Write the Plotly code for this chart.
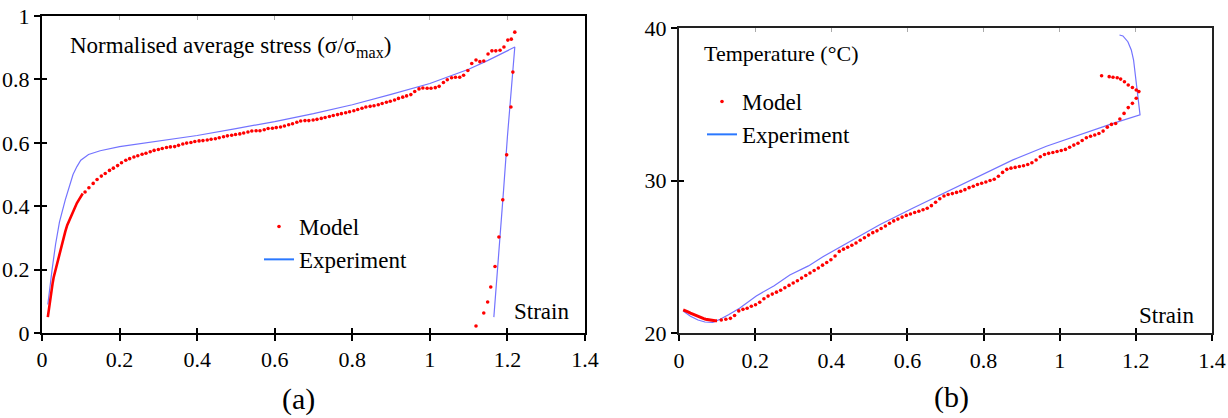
import plotly.graph_objects as go

W, H = 1228, 418
FONT = "Liberation Serif, Times New Roman, serif"

# ---------------- Panel (a): normalised average stress ----------------
exp_a_strain = [0.015, 0.02, 0.026, 0.035, 0.045, 0.06, 0.07, 0.08, 0.09, 0.10, 0.12, 0.15, 0.2, 0.3,
                0.4, 0.5, 0.6, 0.7, 0.8, 0.9, 1.0, 1.1, 1.15, 1.219, 1.21, 1.20, 1.19, 1.18, 1.165]
exp_a_stress = [0.09, 0.15, 0.20, 0.28, 0.35, 0.42, 0.46, 0.50, 0.525, 0.545, 0.563, 0.575, 0.588, 0.605,
                0.623, 0.645, 0.667, 0.692, 0.72, 0.753, 0.787, 0.832, 0.86, 0.902, 0.78, 0.62, 0.45, 0.28, 0.05]

model_a_dense_strain = [0.015, 0.0165, 0.018, 0.02, 0.0225, 0.025, 0.0275, 0.03, 0.033, 0.036, 0.04, 0.045,
                        0.05, 0.055, 0.06, 0.065, 0.07, 0.075, 0.08, 0.085, 0.09, 0.095, 0.10, 0.105]
model_a_dense_stress = [0.05, 0.065, 0.08, 0.10, 0.12, 0.14, 0.158, 0.175, 0.19, 0.205, 0.225, 0.25,
                        0.275, 0.30, 0.32, 0.34, 0.355, 0.37, 0.385, 0.40, 0.41, 0.42, 0.43, 0.44]

model_a_strain = [0.111, 0.121, 0.132, 0.142, 0.153, 0.163, 0.174, 0.184, 0.195, 0.205, 0.216, 0.226, 0.237,
                  0.247, 0.258, 0.268, 0.279, 0.289, 0.300, 0.310, 0.321, 0.331, 0.342, 0.352, 0.363, 0.373,
                  0.384, 0.394, 0.405, 0.415, 0.426, 0.436, 0.447, 0.457, 0.468, 0.478, 0.489, 0.499, 0.510,
                  0.520, 0.531, 0.541, 0.552, 0.562, 0.573, 0.583, 0.594, 0.604, 0.615, 0.625, 0.636, 0.646,
                  0.657, 0.667, 0.678, 0.688, 0.699, 0.709, 0.720, 0.730, 0.741, 0.751, 0.762, 0.772, 0.783,
                  0.793, 0.804, 0.814, 0.825, 0.835, 0.846, 0.856, 0.867, 0.877, 0.888, 0.898, 0.909, 0.919,
                  0.930, 0.940, 0.951, 0.961, 0.972, 0.982, 0.993, 1.003, 1.014, 1.024, 1.035, 1.045, 1.056,
                  1.066, 1.077, 1.087, 1.098, 1.108, 1.119, 1.129, 1.139, 1.150, 1.160, 1.170, 1.181, 1.191,
                  1.201, 1.210, 1.219,
                  1.214, 1.209, 1.198, 1.188, 1.178, 1.168, 1.157, 1.149, 1.139, 1.119]
model_a_stress = [0.445, 0.458, 0.472, 0.484, 0.495, 0.503, 0.513, 0.520, 0.528, 0.537, 0.545, 0.550, 0.555,
                  0.559, 0.564, 0.567, 0.572, 0.576, 0.579, 0.582, 0.585, 0.587, 0.588, 0.592, 0.596, 0.599,
                  0.601, 0.604, 0.606, 0.607, 0.609, 0.611, 0.613, 0.616, 0.619, 0.622, 0.624, 0.626, 0.628,
                  0.631, 0.634, 0.637, 0.638, 0.638, 0.641, 0.645, 0.646, 0.648, 0.650, 0.653, 0.657, 0.660,
                  0.665, 0.669, 0.670, 0.670, 0.672, 0.674, 0.677, 0.680, 0.683, 0.686, 0.689, 0.692, 0.695,
                  0.698, 0.701, 0.705, 0.709, 0.713, 0.715, 0.717, 0.720, 0.724, 0.728, 0.731, 0.735, 0.740,
                  0.744, 0.748, 0.752, 0.762, 0.770, 0.773, 0.772, 0.772, 0.774, 0.778, 0.790, 0.799, 0.805,
                  0.807, 0.807, 0.813, 0.828, 0.850, 0.861, 0.856, 0.858, 0.880, 0.890, 0.890, 0.892, 0.902,
                  0.924, 0.927, 0.949,
                  0.823, 0.713, 0.562, 0.420, 0.303, 0.210, 0.145, 0.098, 0.063, 0.022]

# ---------------- Panel (b): temperature ----------------
exp_b_strain = [0.011, 0.03, 0.05, 0.068, 0.089, 0.108, 0.13, 0.159, 0.203, 0.25, 0.291, 0.34, 0.378, 0.42,
                0.466, 0.527, 0.615, 0.702, 0.790, 0.877, 0.965, 1.053, 1.140, 1.211, 1.204, 1.200, 1.194,
                1.188, 1.179, 1.166, 1.157]
exp_b_temp = [21.44, 21.10, 20.85, 20.72, 20.70, 20.90, 21.20, 21.62, 22.43, 23.10, 23.80, 24.40, 25.00, 25.60,
              26.21, 27.10, 28.20, 29.25, 30.30, 31.35, 32.25, 33.00, 33.75, 34.30, 35.72, 36.80, 37.90,
              38.56, 39.10, 39.48, 39.54]

model_b_dense_strain = [0.011, 0.015, 0.020, 0.025, 0.030, 0.035, 0.040, 0.045, 0.050, 0.055, 0.060, 0.065,
                        0.070, 0.075, 0.080, 0.085, 0.090, 0.095, 0.100]
model_b_dense_temp = [21.51, 21.48, 21.43, 21.37, 21.31, 21.25, 21.19, 21.13, 21.08, 21.03, 20.98, 20.94,
                      20.90, 20.87, 20.84, 20.82, 20.81, 20.80, 20.80]

model_b_strain = [0.111, 0.123, 0.135, 0.146, 0.157, 0.168, 0.179, 0.190, 0.201, 0.212, 0.223, 0.234, 0.245,
                  0.256, 0.267, 0.278, 0.289, 0.300, 0.311, 0.322, 0.333, 0.344, 0.355, 0.366, 0.377, 0.388,
                  0.399, 0.410, 0.421, 0.432, 0.443, 0.454, 0.465, 0.476, 0.487, 0.498, 0.509, 0.520, 0.531,
                  0.542, 0.553, 0.564, 0.575, 0.586, 0.597, 0.608, 0.619, 0.630, 0.641, 0.652, 0.663, 0.674,
                  0.685, 0.696, 0.707, 0.718, 0.729, 0.740, 0.751, 0.762, 0.773, 0.784, 0.795, 0.806, 0.817,
                  0.828, 0.839, 0.850, 0.861, 0.872, 0.883, 0.894, 0.905, 0.916, 0.927, 0.938, 0.949, 0.960,
                  0.971, 0.982, 0.993, 1.004, 1.015, 1.026, 1.037, 1.048, 1.059, 1.070, 1.081, 1.092, 1.103,
                  1.114, 1.125, 1.136, 1.147, 1.158, 1.169, 1.180, 1.191, 1.201, 1.208,
                  1.201, 1.191, 1.180, 1.170, 1.160, 1.151, 1.140, 1.130, 1.110]
model_b_temp = [20.85, 20.90, 20.96, 21.15, 21.45, 21.55, 21.62, 21.75, 21.85, 22.02, 22.25, 22.42, 22.55,
                22.68, 22.80, 22.97, 23.12, 23.28, 23.43, 23.60, 23.77, 23.93, 24.10, 24.26, 24.45, 24.62,
                24.80, 25.05, 25.35, 25.50, 25.62, 25.75, 25.90, 26.08, 26.25, 26.42, 26.58, 26.70, 26.85,
                27.02, 27.20, 27.35, 27.47, 27.60, 27.71, 27.80, 27.90, 27.98, 28.08, 28.18, 28.35, 28.57,
                28.80, 28.98, 29.08, 29.14, 29.22, 29.30, 29.40, 29.53, 29.62, 29.74, 29.82, 29.90, 30.00,
                30.08, 30.28, 30.53, 30.73, 30.81, 30.86, 30.92, 30.97, 31.05, 31.16, 31.34, 31.56, 31.70,
                31.78, 31.84, 31.90, 31.97, 32.04, 32.18, 32.32, 32.44, 32.62, 32.80, 32.90, 32.98, 33.08,
                33.24, 33.50, 33.68, 33.74, 34.03, 34.40, 34.78, 35.06, 35.39, 35.83,
                35.93, 36.10, 36.26, 36.48, 36.65, 36.74, 36.77, 36.81, 36.87]

x_ticks = [0, 0.2, 0.4, 0.6, 0.8, 1.0, 1.2, 1.4]
x_tick_text = ["0", "0.2", "0.4", "0.6", "0.8", "1", "1.2", "1.4"]
ya_ticks = [0, 0.2, 0.4, 0.6, 0.8, 1.0]
ya_tick_text = ["0", "0.2", "0.4", "0.6", "0.8", "1"]
yb_ticks = [20, 30, 40]
yb_tick_text = ["20", "30", "40"]

RED = "#ff0000"
LINE_BLUE = "#7373ff"
LEG_BLUE = "#2a78ff"

fig = go.Figure()

# panel a
fig.add_trace(go.Scatter(x=exp_a_strain, y=exp_a_stress, mode="lines", line=dict(color=LINE_BLUE, width=1.2),
                         showlegend=False, xaxis="x", yaxis="y"))
fig.add_trace(go.Scatter(x=model_a_dense_strain, y=model_a_dense_stress, mode="lines",
                         line=dict(color=RED, width=2.6), showlegend=False, xaxis="x", yaxis="y"))
fig.add_trace(go.Scatter(x=model_a_strain, y=model_a_stress, mode="markers", name="Model",
                         marker=dict(color=RED, size=3.6), legend="legend", legendgroup="m",
                         xaxis="x", yaxis="y"))
fig.add_trace(go.Scatter(x=[None], y=[None], mode="lines", name="Experiment",
                         line=dict(color=LEG_BLUE, width=2), legend="legend", legendgroup="e",
                         xaxis="x", yaxis="y"))

# panel b
fig.add_trace(go.Scatter(x=exp_b_strain, y=exp_b_temp, mode="lines", line=dict(color=LINE_BLUE, width=1.2),
                         showlegend=False, xaxis="x2", yaxis="y2"))
fig.add_trace(go.Scatter(x=model_b_dense_strain, y=model_b_dense_temp, mode="lines",
                         line=dict(color=RED, width=3), showlegend=False, xaxis="x2", yaxis="y2"))
fig.add_trace(go.Scatter(x=model_b_strain, y=model_b_temp, mode="markers", name="Model",
                         marker=dict(color=RED, size=3.6), legend="legend2", legendgroup="m2",
                         xaxis="x2", yaxis="y2"))
fig.add_trace(go.Scatter(x=[None], y=[None], mode="lines", name="Experiment",
                         line=dict(color=LEG_BLUE, width=2), legend="legend2", legendgroup="e2",
                         xaxis="x2", yaxis="y2"))

# empty traces so the overlay (inside-tick) axes are drawn
for xa, ya in [("x3", "y"), ("x", "y3"), ("x4", "y2"), ("x2", "y4"), ("x5", "y"), ("x6", "y2")]:
    fig.add_trace(go.Scatter(x=[], y=[], mode="markers", showlegend=False, hoverinfo="skip",
                             xaxis=xa, yaxis=ya))

tickfont = dict(family=FONT, size=22, color="black")
common = dict(showgrid=False, zeroline=False, ticks="outside", ticklen=6, tickwidth=1.6,
              tickcolor="black", tickfont=tickfont, automargin=False)
overlay = dict(showticklabels=False, showgrid=False, zeroline=False, showline=False, automargin=False)

xa_dom = [42 / W, 585 / W]
xb_dom = [679 / W, 1212 / W]
ya_dom = [(H - 333) / H, (H - 16) / H]
yb_dom = [(H - 333) / H, (H - 28) / H]

fig.update_layout(
    width=W, height=H, margin=dict(l=0, r=0, t=0, b=0, autoexpand=False),
    paper_bgcolor="white", plot_bgcolor="white",
    xaxis=dict(domain=xa_dom, range=[0, 1.4], anchor="y", tickvals=x_ticks, ticktext=x_tick_text,
               showline=True, linecolor="black", linewidth=2, mirror=True, **common),
    yaxis=dict(domain=ya_dom, range=[0, 1], anchor="x", tickvals=ya_ticks, ticktext=ya_tick_text,
               showline=True, linecolor="black", linewidth=2, mirror=True, **common),
    xaxis2=dict(domain=xb_dom, range=[0, 1.4], anchor="y2", tickvals=x_ticks, ticktext=x_tick_text,
                showline=True, linecolor="#222", linewidth=2.2, mirror=True, **common),
    yaxis2=dict(domain=yb_dom, range=[20, 40], anchor="x2", tickvals=yb_ticks, ticktext=yb_tick_text,
                showline=True, linecolor="#222", linewidth=2, mirror=True, **common),
    xaxis3=dict(overlaying="x", range=[0, 1.4], anchor="y", tickvals=x_ticks,
                ticks="inside", ticklen=5, tickwidth=1.6, tickcolor="black", **overlay),
    yaxis3=dict(overlaying="y", range=[0, 1], anchor="x", tickvals=ya_ticks,
                ticks="inside", ticklen=5, tickwidth=1.6, tickcolor="black", **overlay),
    xaxis4=dict(overlaying="x2", range=[0, 1.4], anchor="y2", tickvals=x_ticks,
                ticks="inside", ticklen=5, tickwidth=1.6, tickcolor="black", **overlay),
    yaxis4=dict(overlaying="y2", range=[20, 40], anchor="x2", tickvals=yb_ticks,
                ticks="inside", ticklen=5, tickwidth=1.6, tickcolor="black", **overlay),
    xaxis5=dict(overlaying="x", range=[0, 1.4], anchor="y", side="top", tickvals=x_ticks[1:-1],
                ticks="inside", ticklen=4, tickwidth=1, tickcolor="#aaa", **overlay),
    xaxis6=dict(overlaying="x2", range=[0, 1.4], anchor="y2", side="top", tickvals=x_ticks[1:-1],
                ticks="inside", ticklen=4, tickwidth=1, tickcolor="#aaa", **overlay),
    legend=dict(x=259 / W, y=1 - 205 / H, xanchor="left", yanchor="top", bgcolor="rgba(0,0,0,0)",
                font=dict(family=FONT, size=23, color="black"), itemwidth=30, itemsizing="trace",
                traceorder="grouped", tracegroupgap=0),
    legend2=dict(x=702 / W, y=1 - 80 / H, xanchor="left", yanchor="top", bgcolor="rgba(0,0,0,0)",
                 font=dict(family=FONT, size=23, color="black"), itemwidth=30, itemsizing="trace",
                 traceorder="grouped", tracegroupgap=0),
    showlegend=True,
)

fig.add_annotation(text="Normalised average stress (σ/σ<sub>max</sub>)", x=68 / W, y=1 - 47 / H,
                   xref="paper", yref="paper", xanchor="left", yanchor="middle", showarrow=False,
                   font=dict(family=FONT, size=23, color="black"))
fig.add_annotation(text="Temperature (°C)", x=702 / W, y=1 - 53 / H, xref="paper", yref="paper",
                   xanchor="left", yanchor="middle", showarrow=False,
                   font=dict(family=FONT, size=22, color="black"))
fig.add_annotation(text="Strain", x=512 / W, y=1 - 311 / H, xref="paper", yref="paper",
                   xanchor="left", yanchor="middle", showarrow=False,
                   font=dict(family=FONT, size=23, color="black"))
fig.add_annotation(text="Strain", x=1137 / W, y=1 - 315 / H, xref="paper", yref="paper",
                   xanchor="left", yanchor="middle", showarrow=False,
                   font=dict(family=FONT, size=23, color="black"))
fig.add_annotation(text="(a)", x=298 / W, y=1 - 399 / H, xref="paper", yref="paper",
                   xanchor="center", yanchor="middle", showarrow=False,
                   font=dict(family=FONT, size=30, color="black"))
fig.add_annotation(text="(b)", x=951 / W, y=1 - 397 / H, xref="paper", yref="paper",
                   xanchor="center", yanchor="middle", showarrow=False,
                   font=dict(family=FONT, size=30, color="black"))

fig.write_html("out.html")
